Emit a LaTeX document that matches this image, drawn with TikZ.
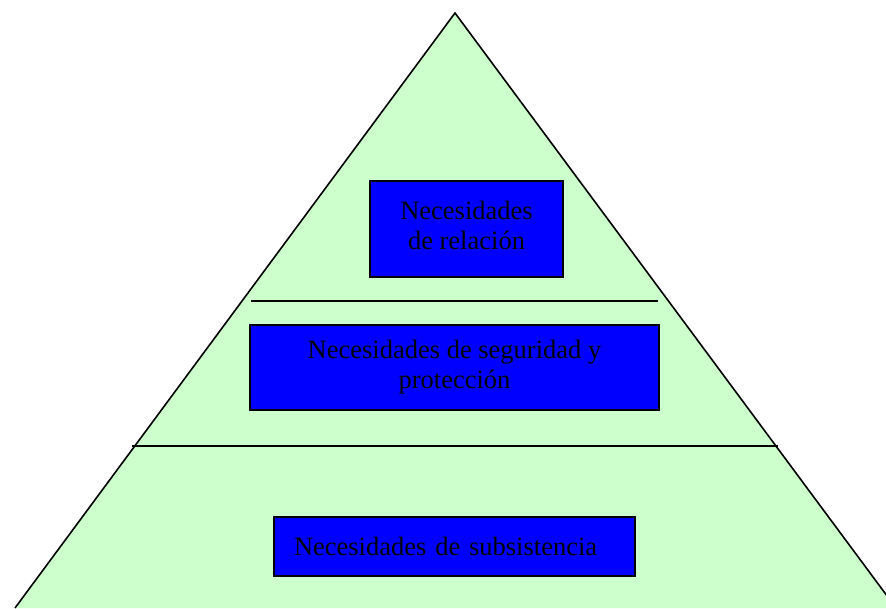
\documentclass[tikz,border=0pt]{standalone}
\usepackage{fontspec}
\setmainfont{Liberation Serif}
\usetikzlibrary{positioning}

\definecolor{pyrgreen}{HTML}{CCFFCC}
\definecolor{tierblue}{HTML}{0000FF}

\begin{document}
\begin{tikzpicture}[
  x=1pt,
  y=-1pt,
  tier/.style={draw, line width=1.6pt, fill=tierblue, inner sep=0pt, align=center, font=\fontsize{26.5}{30}\selectfont},
  divider/.style={line width=1.3pt}
]
  \useasboundingbox (0,0) rectangle (886,608);
  \clip (0,0) rectangle (886,608);

  \coordinate (apex) at (455,13);
  \coordinate (baseL) at (15,608);
  \coordinate (baseR) at (896,608);
  \draw[fill=pyrgreen, line width=1.6pt, line join=miter] (baseL) -- (apex) -- (baseR);

  \draw[divider] (251,301) -- (658,301);
  \draw[divider] (132,446) -- (778,446);

  \node[tier, minimum width=193, minimum height=96, text depth=7] (relacion) at (466.5,229) {Necesidades\\de relación};
  \node[tier, minimum width=409, minimum height=85] (seguridad) at (454.5,367.5) {Necesidades de seguridad y\\protección};
  \node[tier, minimum width=361, minimum height=59, text width=321, align=left, inner xsep=20] (subsistencia) at (454.5,546.5) {Necesidades de subsistencia};
\end{tikzpicture}
\end{document}
